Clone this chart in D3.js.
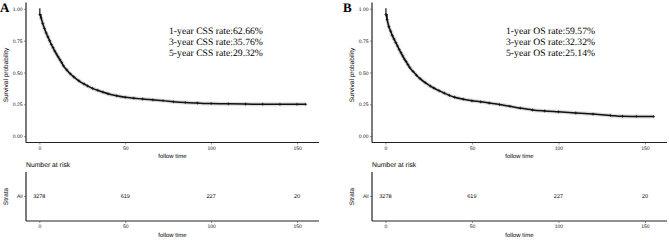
<!DOCTYPE html>
<html>
<head>
<meta charset="utf-8">
<script src="https://cdn.jsdelivr.net/npm/d3@7"></script>
<style>
  body { margin: 0; background: #fff; }
  svg { display: block; }
</style>
</head>
<body>
<div class="chart"></div>
<script>
// Taille de la figure
const width = 669;
const height = 240;

// Données (temps en mois)
const timesCSS = [0, 0.3, 1, 2, 3, 4, 5, 6, 7, 8, 9, 10, 11, 12, 13, 14, 16, 18, 20, 23, 26, 28, 31, 34, 37, 40, 45, 50, 55, 60, 66, 72, 78, 85, 92, 100, 110, 120, 130, 140, 150, 155];
const survCSS  = [1.0, 0.955, 0.93, 0.885, 0.845, 0.81, 0.78, 0.75, 0.72, 0.695, 0.668, 0.645, 0.622, 0.6, 0.578, 0.553, 0.52, 0.49, 0.466, 0.435, 0.41, 0.395, 0.375, 0.36, 0.346, 0.333, 0.317, 0.305, 0.298, 0.292, 0.285, 0.279, 0.271, 0.264, 0.26, 0.256, 0.254, 0.252, 0.251, 0.25, 0.25, 0.25];

const timesOS = [0, 0.3, 1, 2, 3, 4, 5, 6, 7, 8, 9, 10, 11, 12, 13, 14, 16, 18, 20, 23, 26, 28, 31, 34, 37, 40, 45, 50, 55, 60, 66, 72, 78, 85, 92, 100, 110, 120, 130, 137, 145, 155];
const survOS  = [1.0, 0.955, 0.915, 0.86, 0.825, 0.79, 0.762, 0.735, 0.708, 0.68, 0.655, 0.63, 0.605, 0.585, 0.562, 0.54, 0.508, 0.478, 0.452, 0.42, 0.393, 0.378, 0.357, 0.338, 0.32, 0.306, 0.29, 0.278, 0.27, 0.26, 0.248, 0.234, 0.22, 0.206, 0.198, 0.191, 0.182, 0.173, 0.163, 0.156, 0.155, 0.154];

// Tableau "Number at risk"
const riskTimes = [0, 50, 100, 150];
const riskCSS = [3278, 619, 227, 20];
const riskOS = [3278, 619, 227, 20];

// Graduations
const ticksX = [0, 50, 100, 150];
const ticksY = [0, 0.25, 0.5, 0.75, 1];
const tickLabelsY = ['0.00', '0.25', '0.50', '0.75', '1.00'];

// Annotations
const ratesCSS = ['1-year CSS rate:62.66%', '3-year CSS rate:35.76%', '5-year CSS rate:29.32%'];
const ratesOS = ['1-year OS rate:59.57%', '3-year OS rate:32.32%', '5-year OS rate:25.14%'];

const sans = 'Liberation Sans, Arial, sans-serif';
const serif = 'Liberation Serif, Times New Roman, serif';

const svg = d3.select('.chart')
  .append('svg')
  .attr('width', width)
  .attr('height', height)
  .style('text-rendering', 'geometricPrecision');

// Style commun des axes
function styleAxis(a, domainPath) {
  a.select('.domain').attr('stroke', '#222').attr('stroke-width', 1.2).attr('d', domainPath);
  a.selectAll('.tick line').attr('stroke', '#444').attr('stroke-width', 0.6);
  a.selectAll('.tick text').style('font', `5px ${sans}`).attr('fill', '#111');
}

function drawPanel(p) {
  const g = svg.append('g');

  // Echelles (expansion de 5% comme ggplot)
  const x = d3.scaleLinear().domain([-7.75, 162.75]).range([p.left, p.right]);
  const y = d3.scaleLinear().domain([-0.05, 1.05]).range([142.5, 2.5]);
  const yRisk = d3.scaleBand().domain(['All']).range([221, 172]);

  // Lettre du panneau
  g.append('text')
    .attr('x', p.letterX).attr('y', 12)
    .style('font', `bold 13px ${serif}`)
    .text(p.letter);

  // Courbe : bande de confiance (trait gris) puis courbe noire
  const pts = p.times.map((t, i) => [t, p.surv[i]]);
  const line = d3.line()
    .x(d => x(d[0]))
    .y(d => y(d[1]))
    .curve(d3.curveMonotoneX);

  g.append('path')
    .attr('d', line(pts.slice(2)))
    .attr('fill', 'none')
    .attr('stroke', '#dcdcdc')
    .attr('stroke-width', 4);

  g.append('path')
    .attr('d', d3.line().x(d => x(d[0])).y(d => y(d[1])).curve(d3.curveStepAfter)(pts.slice(0, 3)))
    .attr('fill', 'none')
    .attr('stroke', '#111')
    .attr('stroke-width', 1.2);

  g.append('path')
    .attr('d', line(pts.slice(1)))
    .attr('fill', 'none')
    .attr('stroke', '#111')
    .attr('stroke-width', 1.5);

  // Marques de censure
  g.append('g')
    .selectAll('path')
    .data(pts.slice(1))
    .join('path')
      .attr('d', d => `M${x(d[0]) - 1.5},${y(d[1])}h3M${x(d[0])},${y(d[1]) - 1.5}v3`)
      .attr('stroke', '#111')
      .attr('stroke-width', 0.7);

  // Axe horizontal
  g.append('g')
    .attr('transform', 'translate(0,142.5)')
    .call(d3.axisBottom(x).tickValues(ticksX).tickSize(2).tickPadding(1.5))
    .call(a => styleAxis(a, `M${p.left},0H${p.right}`));

  // Axe vertical
  g.append('g')
    .attr('transform', `translate(${p.left},0)`)
    .call(d3.axisLeft(y).tickValues(ticksY).tickFormat((d, i) => tickLabelsY[i]).tickSize(2).tickPadding(1.5))
    .call(a => styleAxis(a, 'M0,142.5V2.5'));

  // Titres d'axes
  g.append('text')
    .attr('x', (p.left + p.right) / 2).attr('y', 157.5)
    .attr('text-anchor', 'middle')
    .style('font', `6px ${sans}`)
    .text('follow time');

  g.append('text')
    .attr('transform', `translate(${p.left - 18.5},75) rotate(-90)`)
    .attr('text-anchor', 'middle')
    .style('font', `6.5px ${sans}`)
    .text('Survival probability');

  // Annotations des taux
  g.append('g')
    .selectAll('text')
    .data(p.rates)
    .join('text')
      .attr('x', p.rateX)
      .attr('y', (d, i) => 34 + i * 11)
      .style('font', `9.7px ${serif}`)
      .text(d => d);

  // Tableau des effectifs
  g.append('text')
    .attr('x', p.left).attr('y', 167)
    .style('font', `6.8px ${sans}`)
    .text('Number at risk');

  g.append('g')
    .selectAll('text')
    .data(p.risk)
    .join('text')
      .attr('x', (d, i) => x(riskTimes[i]))
      .attr('y', yRisk('All') + yRisk.bandwidth() / 2)
      .attr('dy', '0.35em')
      .attr('text-anchor', 'middle')
      .style('font', `5.5px ${sans}`)
      .text(d => d);

  g.append('g')
    .attr('transform', 'translate(0,221)')
    .call(d3.axisBottom(x).tickValues(ticksX).tickSize(2).tickPadding(1.5))
    .call(a => styleAxis(a, `M${p.left},0H${p.right}`));

  g.append('g')
    .attr('transform', `translate(${p.left},0)`)
    .call(d3.axisLeft(yRisk).tickSize(2).tickPadding(1.5))
    .call(a => styleAxis(a, 'M0,221V172'));

  g.append('text')
    .attr('x', (p.left + p.right) / 2).attr('y', 237)
    .attr('text-anchor', 'middle')
    .style('font', `6px ${sans}`)
    .text('follow time');

  g.append('text')
    .attr('transform', `translate(${p.left - 18.5},196.5) rotate(-90)`)
    .attr('text-anchor', 'middle')
    .style('font', `6.5px ${sans}`)
    .text('Strata');
}

drawPanel({ letter: 'A', letterX: 0, left: 26, right: 319, times: timesCSS, surv: survCSS, rates: ratesCSS, rateX: 169, risk: riskCSS });
drawPanel({ letter: 'B', letterX: 343, left: 372, right: 667, times: timesOS, surv: survOS, rates: ratesOS, rateX: 506, risk: riskOS });
</script>
</body>
</html>
